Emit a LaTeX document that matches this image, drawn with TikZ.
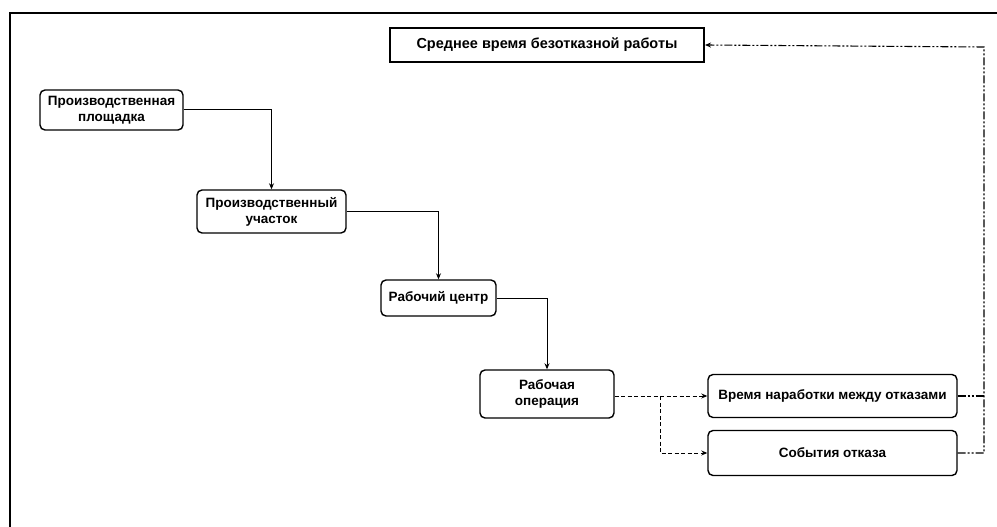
\documentclass[tikz,border=0pt]{standalone}
\usepackage{fontspec}
\setmainfont{Liberation Sans}
\usetikzlibrary{arrows.meta}
\begin{document}
\begin{tikzpicture}[x=1pt,y=-1pt,
  box/.style={draw,line width=1.4pt,rounded corners=5pt,align=center,inner sep=1pt,font=\fontsize{13.5}{16}\selectfont\bfseries},
  sharpbox/.style={draw,line width=2pt,align=center,inner sep=1pt,font=\fontsize{14.5}{16}\selectfont\bfseries},
  link/.style={line width=1pt,-{Stealth[length=6pt,width=5pt]}},
  dlink/.style={line width=1pt,dash pattern=on 4pt off 2.5pt,-{Stealth[length=6pt,width=5pt]}},
  ddlink/.style={line width=1.1pt,dash pattern=on 8pt off 2pt on 2pt off 2pt on 2pt off 2pt}]
\useasboundingbox (0,0) rectangle (997,527);
\fill[white] (0,0) rectangle (997,527);
\draw[line width=1.5pt] (10,527) -- (10,13) -- (997,13);

\node[sharpbox,minimum width=314pt,minimum height=34pt] (top) at (547,45) {Среднее время безотказной работы};
\node[box,minimum width=143pt,minimum height=40pt] (b1) at (111.5,110) {Производственная\\площадка};
\node[box,minimum width=149pt,minimum height=43pt] (b2) at (271.5,211.5) {Производственный\\участок};
\node[box,minimum width=115pt,minimum height=36pt] (b3) at (438.5,298) {Рабочий центр};
\node[box,minimum width=134pt,minimum height=48pt] (b4) at (547,394) {Рабочая\\операция};
\node[box,minimum width=249pt,minimum height=43pt] (b5) at (832.5,396) {Время наработки между отказами};
\node[box,minimum width=249pt,minimum height=45pt] (b6) at (832.5,453) {События отказа};

\draw[link] (b1.east) -| (b2.north);
\draw[link] (b2.east) -| (b3.north);
\draw[link] (b3.east) -| (b4.north);

\coordinate (br) at (660,396);
\draw[dlink] (b4.east |- b5.west) -- (b5.west);
\draw[dlink] (br) |- (b6.west);

\coordinate (c1) at (984,47);
\draw[ddlink] (b5.east) -- (b5.east -| c1);
\draw[ddlink,-{Stealth[length=6pt,width=5pt]}] (b6.east) -| (c1) -- (top.east);
\end{tikzpicture}
\end{document}
